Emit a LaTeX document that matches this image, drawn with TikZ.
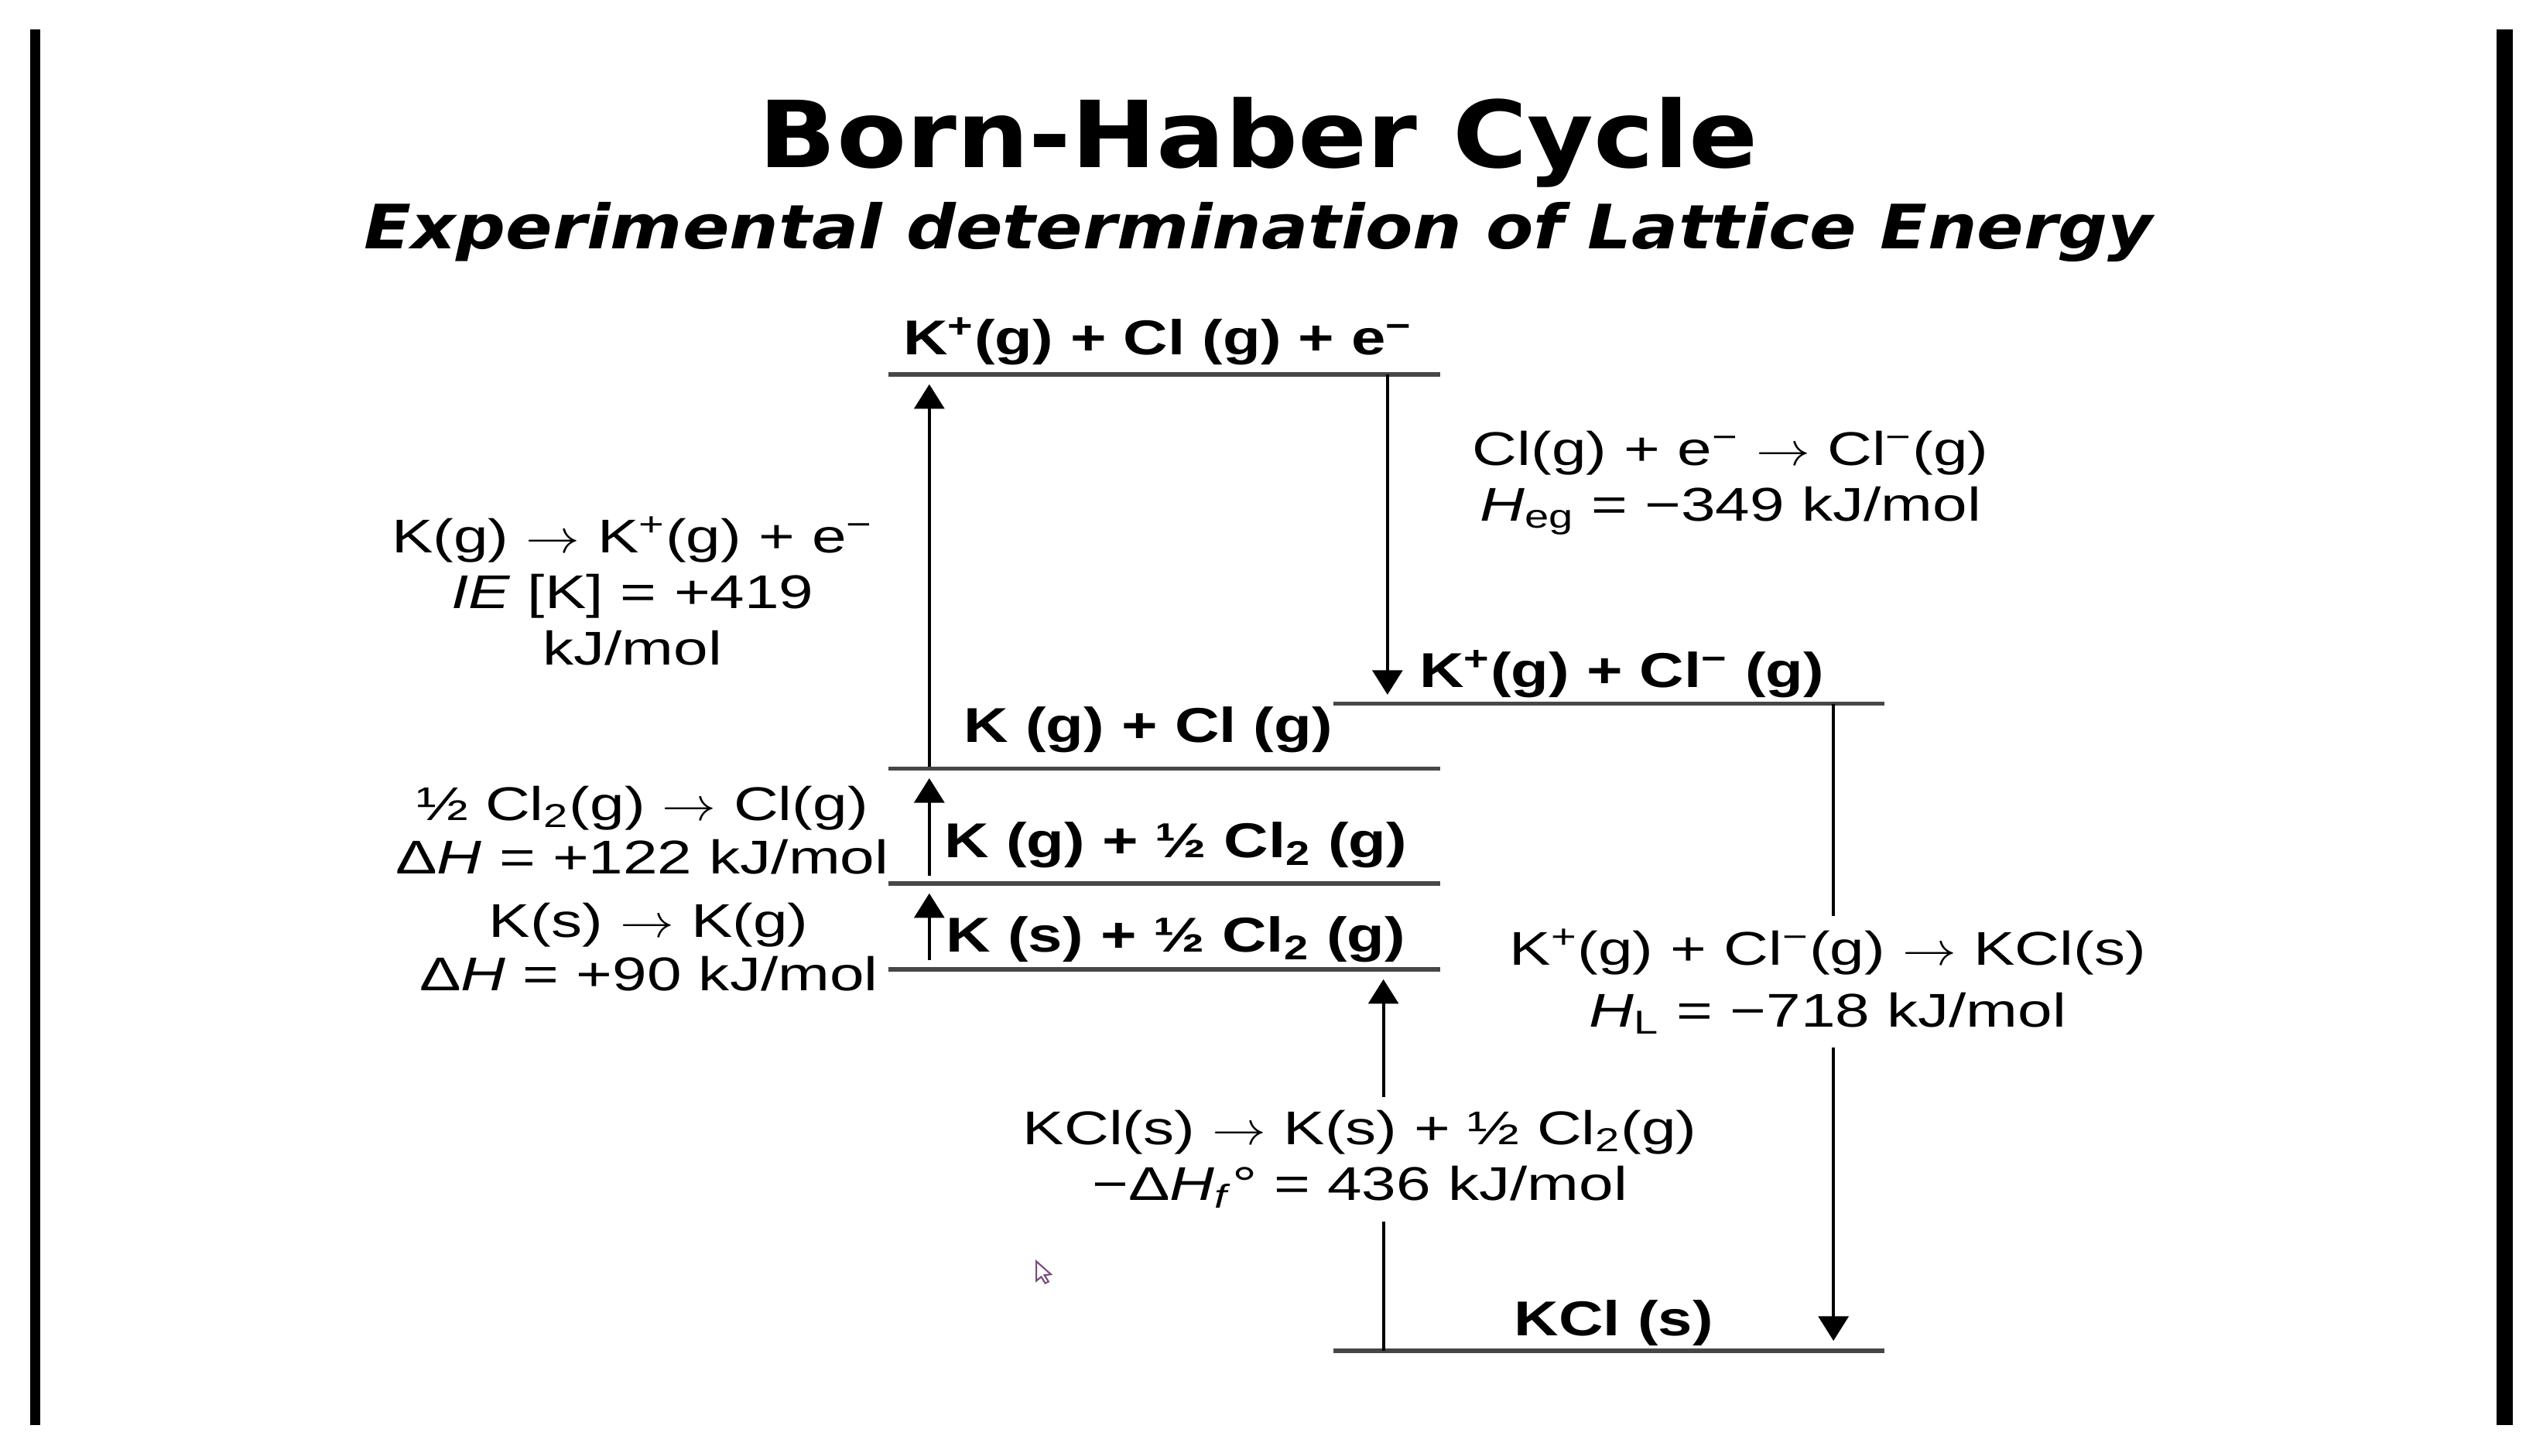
\documentclass[tikz,border=0pt]{standalone}
\usepackage{fontspec}
\usepackage{graphicx}
\usetikzlibrary{arrows.meta}
\setmainfont{Liberation Sans}[FakeStretch=1.26]
\newfontfamily\rxnfont{Liberation Sans}[FakeStretch=1.31]
\newfontfamily\titlefont{DejaVu Sans}[FakeStretch=1.1]
\newfontfamily\subtitlefont{DejaVu Sans}[FakeStretch=1.13]
\newcommand\rarr{\scalebox{1.15}[1]{$\rightarrow$}}
\tikzset{
  levelline/.style={line width=1.6pt, draw=black!72},
  arr/.style={line width=1.2pt, draw=black, -{Triangle[length=9pt,width=11pt]}},
  lvl/.style={font=\bfseries\fontsize{18}{21}\selectfont, anchor=base, inner sep=0pt},
  rxn/.style={align=center, inner sep=0pt},
  gapbox/.style={rxn, fill=white, inner sep=5pt},
  sidebar/.style={fill=black}
}
\begin{document}
\begin{tikzpicture}[x=0.020957cm, y=-0.020957cm]
\useasboundingbox (0,0) rectangle (1568,898);
% side bars
\fill[sidebar] (18.6,18) rectangle (24.8,879);
\fill[sidebar] (1539.5,18) rectangle (1549.4,879);
% title
\node[anchor=base, inner sep=0pt, font=\titlefont\bfseries\fontsize{34}{40}\selectfont] (title) at (776,103.5) {Born-Haber Cycle};
\node[anchor=base, inner sep=0pt, font=\subtitlefont\bfseries\itshape\fontsize{22.5}{27}\selectfont] (subtitle) at (776,153.6) {Experimental determination of Lattice Energy};
% level coordinates
\coordinate (L1a) at (548,231);  \coordinate (L1b) at (888,231);
\coordinate (L2a) at (822,434);  \coordinate (L2b) at (1162,434);
\coordinate (L3a) at (548,474);  \coordinate (L3b) at (888,474);
\coordinate (L4a) at (548,545);  \coordinate (L4b) at (888,545);
\coordinate (L5a) at (548,598);  \coordinate (L5b) at (888,598);
\coordinate (L6a) at (822,833);  \coordinate (L6b) at (1162,833);
\draw[levelline] (L1a) -- (L1b);
\draw[levelline] (L2a) -- (L2b);
\draw[levelline] (L3a) -- (L3b);
\draw[levelline] (L4a) -- (L4b);
\draw[levelline] (L5a) -- (L5b);
\draw[levelline] (L6a) -- (L6b);
% arrow end coordinates
\coordinate (ieS) at (573,473);   \coordinate (ieE) at (573,237);
\coordinate (eaS) at (855.5,231); \coordinate (eaE) at (855.5,428.5);
\coordinate (dsS) at (573,540);   \coordinate (dsE) at (573,480);
\coordinate (sbS) at (573,592);   \coordinate (sbE) at (573,551);
\coordinate (fmS) at (853,833);   \coordinate (fmE) at (853,604);
\coordinate (ltS) at (1130.5,434); \coordinate (ltE) at (1130.5,827);
\draw[arr] (ieS) -- (ieE);
\draw[arr] (eaS) -- (eaE);
\draw[arr] (dsS) -- (dsE);
\draw[arr] (sbS) -- (sbE);
\draw[arr] (fmS) -- (fmE);
\draw[arr] (ltS) -- (ltE);
% level labels
\node[lvl] (t1) at (714,219) {K\textsuperscript{+}(g) + Cl (g) + e\textsuperscript{−}};
\node[lvl] (t2) at (1000,424) {K\textsuperscript{+}(g) + Cl\textsuperscript{−} (g)};
\node[lvl] (t3) at (708,458) {K (g) + Cl (g)};
\node[lvl] (t4) at (725,529) {K (g) + ½ Cl\textsubscript{2} (g)};
\node[lvl] (t5) at (725,587) {K (s) + ½ Cl\textsubscript{2} (g)};
\node[lvl] (t6) at (995,824) {KCl (s)};
% reaction labels
\node[rxn, font=\rxnfont\fontsize{17.4}{20.6}\selectfont] (ie) at (390,364.5) {K(g) \rarr{} K\textsuperscript{+}(g) + e\textsuperscript{−}\\ \textit{IE} [K] = +419\\ kJ/mol};
\node[rxn, font=\rxnfont\fontsize{17.4}{20.3}\selectfont] (ea) at (1067,298) {Cl(g) + e\textsuperscript{−} \rarr{} Cl\textsuperscript{−}(g)\\ \textit{H}\textsubscript{eg} = −349 kJ/mol};
\node[rxn, font=\rxnfont\fontsize{17.4}{19.7}\selectfont] (ds) at (396,512) {½ Cl\textsubscript{2}(g) \rarr{} Cl(g)\\ Δ\textit{H} = +122 kJ/mol};
\node[rxn, font=\rxnfont\fontsize{17.4}{19.7}\selectfont] (sb) at (400,584) {K(s) \rarr{} K(g)\\ Δ\textit{H} = +90 kJ/mol};
\node[gapbox, font=\rxnfont\fontsize{17.4}{22.7}\selectfont] (lt) at (1127,605.5) {K\textsuperscript{+}(g) + Cl\textsuperscript{−}(g) \rarr{} KCl(s)\\ \textit{H}\textsubscript{L} = −718 kJ/mol};
\node[gapbox, font=\rxnfont\fontsize{17.4}{20.3}\selectfont] (fm) at (838.5,715) {KCl(s) \rarr{} K(s) + ½ Cl\textsubscript{2}(g)\\ −Δ\textit{H}\textsubscript{\textit{f}}° = 436 kJ/mol};
% cursor mark
\draw[draw=black!50!violet!70, fill=white, line width=0.6pt] (639,778) -- (639,790) -- (642,787.5) -- (644.5,791.5) -- (646.5,790.5) -- (644,786.5) -- (648,786) -- cycle;
\end{tikzpicture}
\end{document}
